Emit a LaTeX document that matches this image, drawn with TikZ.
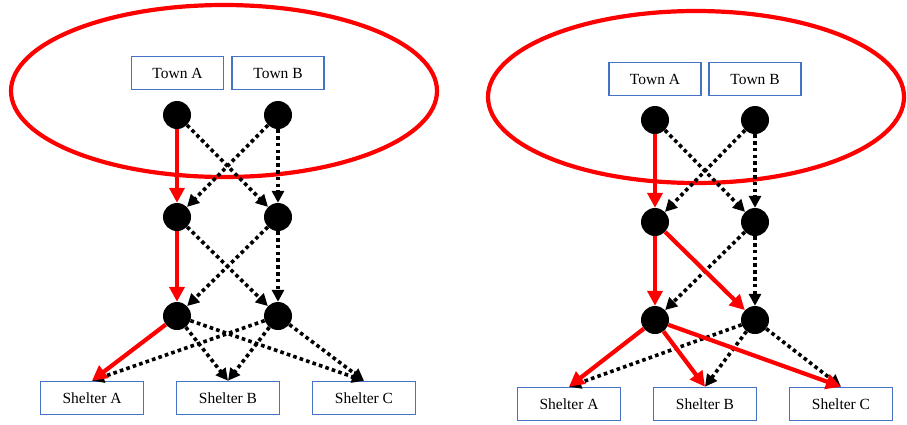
\documentclass[tikz,border=0pt]{standalone}
\usepackage{fontspec}
\setmainfont{Liberation Serif}
\usetikzlibrary{arrows.meta}
\definecolor{boxblue}{RGB}{68,114,196}
\begin{document}
\begin{tikzpicture}[x=1pt,y=-1pt,
  box/.style={draw=boxblue, line width=1.6pt, minimum width=92pt, minimum height=33pt, inner sep=0pt, font=\fontsize{15.5}{18}\selectfont, text=black},
  sbox/.style={box, minimum width=103pt},
  dot/.style={circle, fill=black, minimum size=28pt, inner sep=0pt},
  ring/.style={draw=red, line width=4.2pt},
  redarr/.style={draw=red, line width=4.2pt, -{Triangle[length=15pt,width=15pt]}},
  blkarr/.style={draw=black, line width=3.6pt, dash pattern=on 3.6pt off 3.2pt, -{Triangle[length=12pt,width=12pt]}}
]
\useasboundingbox (0,0) rectangle (907,424);
% ---------- left panel ----------
\draw[ring] (224,91) ellipse [x radius=213, y radius=86];
\node[box] (lta) at (177.5,73) {Town A};
\node[box] (ltb) at (278,73) {Town B};
\node[dot] (l11) at (177,115) {};
\node[dot] (l12) at (278,115) {};
\node[dot] (l21) at (177,217) {};
\node[dot] (l22) at (278,217) {};
\node[dot] (l31) at (177,316) {};
\node[dot] (l32) at (278,316) {};
\node[sbox] (lsa) at (92,398) {Shelter A};
\node[sbox] (lsb) at (228,398) {Shelter B};
\node[sbox] (lsc) at (364,398) {Shelter C};
\draw[blkarr] (l11) -- (l22);
\draw[blkarr] (l12) -- (l21);
\draw[blkarr] (l12) -- (l22);
\draw[blkarr] (l21) -- (l32);
\draw[blkarr] (l22) -- (l31);
\draw[blkarr] (l22) -- (l32);
\draw[blkarr] (l31) -- (lsb.north);
\draw[blkarr] (l31) -- (lsc.north);
\draw[blkarr] (l32) -- (lsa.north);
\draw[blkarr] (l32) -- (lsb.north);
\draw[blkarr] (l32) -- (lsc.north);
\draw[redarr] (l11) -- (l21);
\draw[redarr] (l21) -- (l31);
\draw[redarr] (l31) -- (lsa.north);
% ---------- right panel ----------
\draw[ring] (696,97) ellipse [x radius=208, y radius=86];
\node[box] (rta) at (655,79) {Town A};
\node[box] (rtb) at (755,79) {Town B};
\node[dot] (r11) at (655,120) {};
\node[dot] (r12) at (755,120) {};
\node[dot] (r21) at (655,222) {};
\node[dot] (r22) at (755,222) {};
\node[dot] (r31) at (655,320) {};
\node[dot] (r32) at (755,320) {};
\node[sbox] (rsa) at (569,404) {Shelter A};
\node[sbox] (rsb) at (705,404) {Shelter B};
\node[sbox] (rsc) at (841,404) {Shelter C};
\draw[blkarr] (r11) -- (r22);
\draw[blkarr] (r12) -- (r21);
\draw[blkarr] (r12) -- (r22);
\draw[blkarr] (r22) -- (r31);
\draw[blkarr] (r22) -- (r32);
\draw[blkarr] (r32) -- (rsa.north);
\draw[blkarr] (r32) -- (rsb.north);
\draw[blkarr] (r32) -- (rsc.north);
\draw[redarr] (r11) -- (r21);
\draw[redarr] (r21) -- (r31);
\draw[redarr] (r21) -- (r32);
\draw[redarr] (r31) -- (rsa.north);
\draw[redarr] (r31) -- (rsb.north);
\draw[redarr] (r31) -- (rsc.north);
\end{tikzpicture}
\end{document}
